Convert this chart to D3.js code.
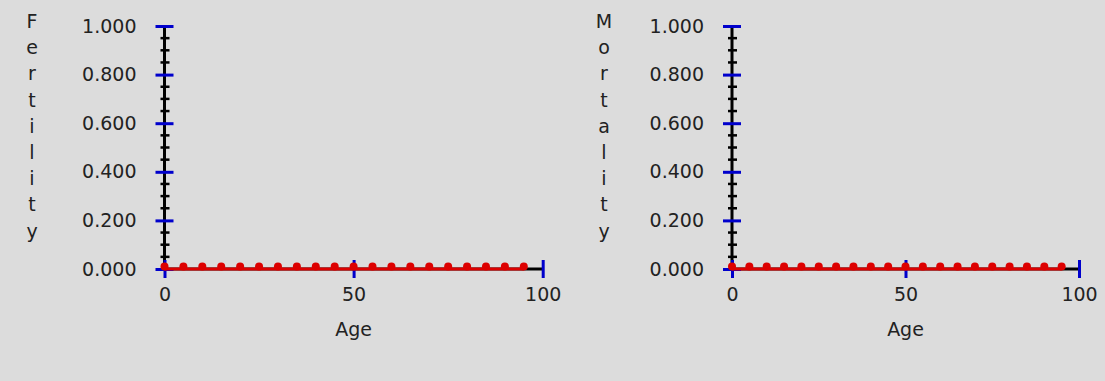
<!DOCTYPE html>
<html>
<head>
<meta charset="utf-8">
<script src="https://cdn.jsdelivr.net/npm/d3@7"></script>
<style>
body { margin: 0; background: #dcdcdc; }
text { font-family: "DejaVu Sans", sans-serif; fill: #222; }
</style>
</head>
<body>
<div id="chart"></div>
<script>
const ages = [0, 5, 10, 15, 20, 25, 30, 35, 40, 45, 50, 55, 60, 65, 70, 75, 80, 85, 90, 95]
const fertility = [0, 0, 0, 0, 0, 0, 0, 0, 0, 0, 0, 0, 0, 0, 0, 0, 0, 0, 0, 0]
const mortality = [0, 0, 0, 0, 0, 0, 0, 0, 0, 0, 0, 0, 0, 0, 0, 0, 0, 0, 0, 0]
const yMajorTicks = [0, 0.2, 0.4, 0.6, 0.8, 1]
const xTicks = [0, 50, 100]
const xTitle = 'Age'

const widthD3 = 1105
const heightD3 = 381
const plotTop = 26
const plotBottom = 269
const blue = '#0000cc'
const red = '#dd0000'

const panels = [
    { title: 'Fertility', values: fertility, left: 164.5, right: 542.7, titleX: 32 },
    { title: 'Mortality', values: mortality, left: 732, right: 1079, titleX: 604 }
]

const svg = d3.select('#chart').append('svg')
    .attr('width', widthD3)
    .attr('height', heightD3)

const yScale = d3.scaleLinear().domain([0, 1]).range([plotBottom, plotTop])

panels.forEach(p => drawPanel(p))

function drawPanel(p) {
    const xScale = d3.scaleLinear().domain([0, 100]).range([p.left, p.right])
    const g = svg.append('g')

    // vertical title, one letter per line
    g.append('g').selectAll('text')
        .data(p.title.split(''))
        .enter()
        .append('text')
        .attr('x', p.titleX)
        .attr('y', (d, i) => 28 + i * 26.2)
        .attr('text-anchor', 'middle')
        .style('font-size', '19px')
        .text(d => d)

    // minor y ticks
    g.append('g').selectAll('line')
        .data(yScale.ticks(20).filter(t => !yMajorTicks.some(m => Math.abs(m - t) < 1e-6)))
        .enter()
        .append('line')
        .attr('x1', p.left - 4)
        .attr('x2', p.left + 5)
        .attr('y1', d => yScale(d))
        .attr('y2', d => yScale(d))
        .attr('stroke', '#000')
        .attr('stroke-width', 2.5)

    // axis lines
    g.append('line')
        .attr('x1', p.left).attr('x2', p.left)
        .attr('y1', yScale(1)).attr('y2', yScale(0))
        .attr('stroke', '#000').attr('stroke-width', 3)
    g.append('line')
        .attr('x1', xScale(0)).attr('x2', xScale(100))
        .attr('y1', yScale(0)).attr('y2', yScale(0))
        .attr('stroke', '#000').attr('stroke-width', 3)

    // y axis labels and major ticks
    const yAxis = d3.axisLeft(yScale)
        .tickValues(yMajorTicks)
        .tickFormat(d3.format('.3f'))
        .tickSize(0)
    const yG = g.append('g')
        .attr('transform', `translate(${p.left}, 0)`)
        .call(yAxis)
    yG.select('.domain').remove()
    yG.selectAll('.tick line')
        .attr('x1', -9).attr('x2', 9)
        .attr('stroke', blue).attr('stroke-width', 3)
    yG.selectAll('.tick text')
        .attr('x', -28)
        .attr('fill', '#222')
        .style('font-size', '19px')
        .style('font-family', '"DejaVu Sans", sans-serif')

    // x axis labels and major ticks
    const xAxis = d3.axisBottom(xScale)
        .tickValues(xTicks)
        .tickFormat(d3.format('d'))
        .tickSize(0)
    const xG = g.append('g')
        .attr('transform', `translate(0, ${yScale(0)})`)
        .call(xAxis)
    xG.select('.domain').remove()
    xG.selectAll('.tick line')
        .attr('y1', -9).attr('y2', 9)
        .attr('stroke', blue).attr('stroke-width', 3)
    xG.selectAll('.tick text')
        .attr('y', 32)
        .attr('dy', null)
        .attr('fill', '#222')
        .style('font-size', '19px')
        .style('font-family', '"DejaVu Sans", sans-serif')

    g.append('text')
        .attr('x', (p.left + p.right) / 2)
        .attr('y', 336)
        .attr('text-anchor', 'middle')
        .style('font-size', '19px')
        .text(xTitle)

    // data line and points
    const line = d3.line()
        .x((d, i) => xScale(ages[i]))
        .y(d => yScale(d))
    g.append('path')
        .datum(p.values)
        .attr('d', line)
        .attr('fill', 'none')
        .attr('stroke', red)
        .attr('stroke-width', 3)

    g.append('g').selectAll('circle')
        .data(p.values)
        .enter()
        .append('circle')
        .attr('cx', (d, i) => xScale(ages[i]))
        .attr('cy', d => yScale(d) - 2.5)
        .attr('r', 4)
        .attr('fill', red)
}
</script>
</body>
</html>
